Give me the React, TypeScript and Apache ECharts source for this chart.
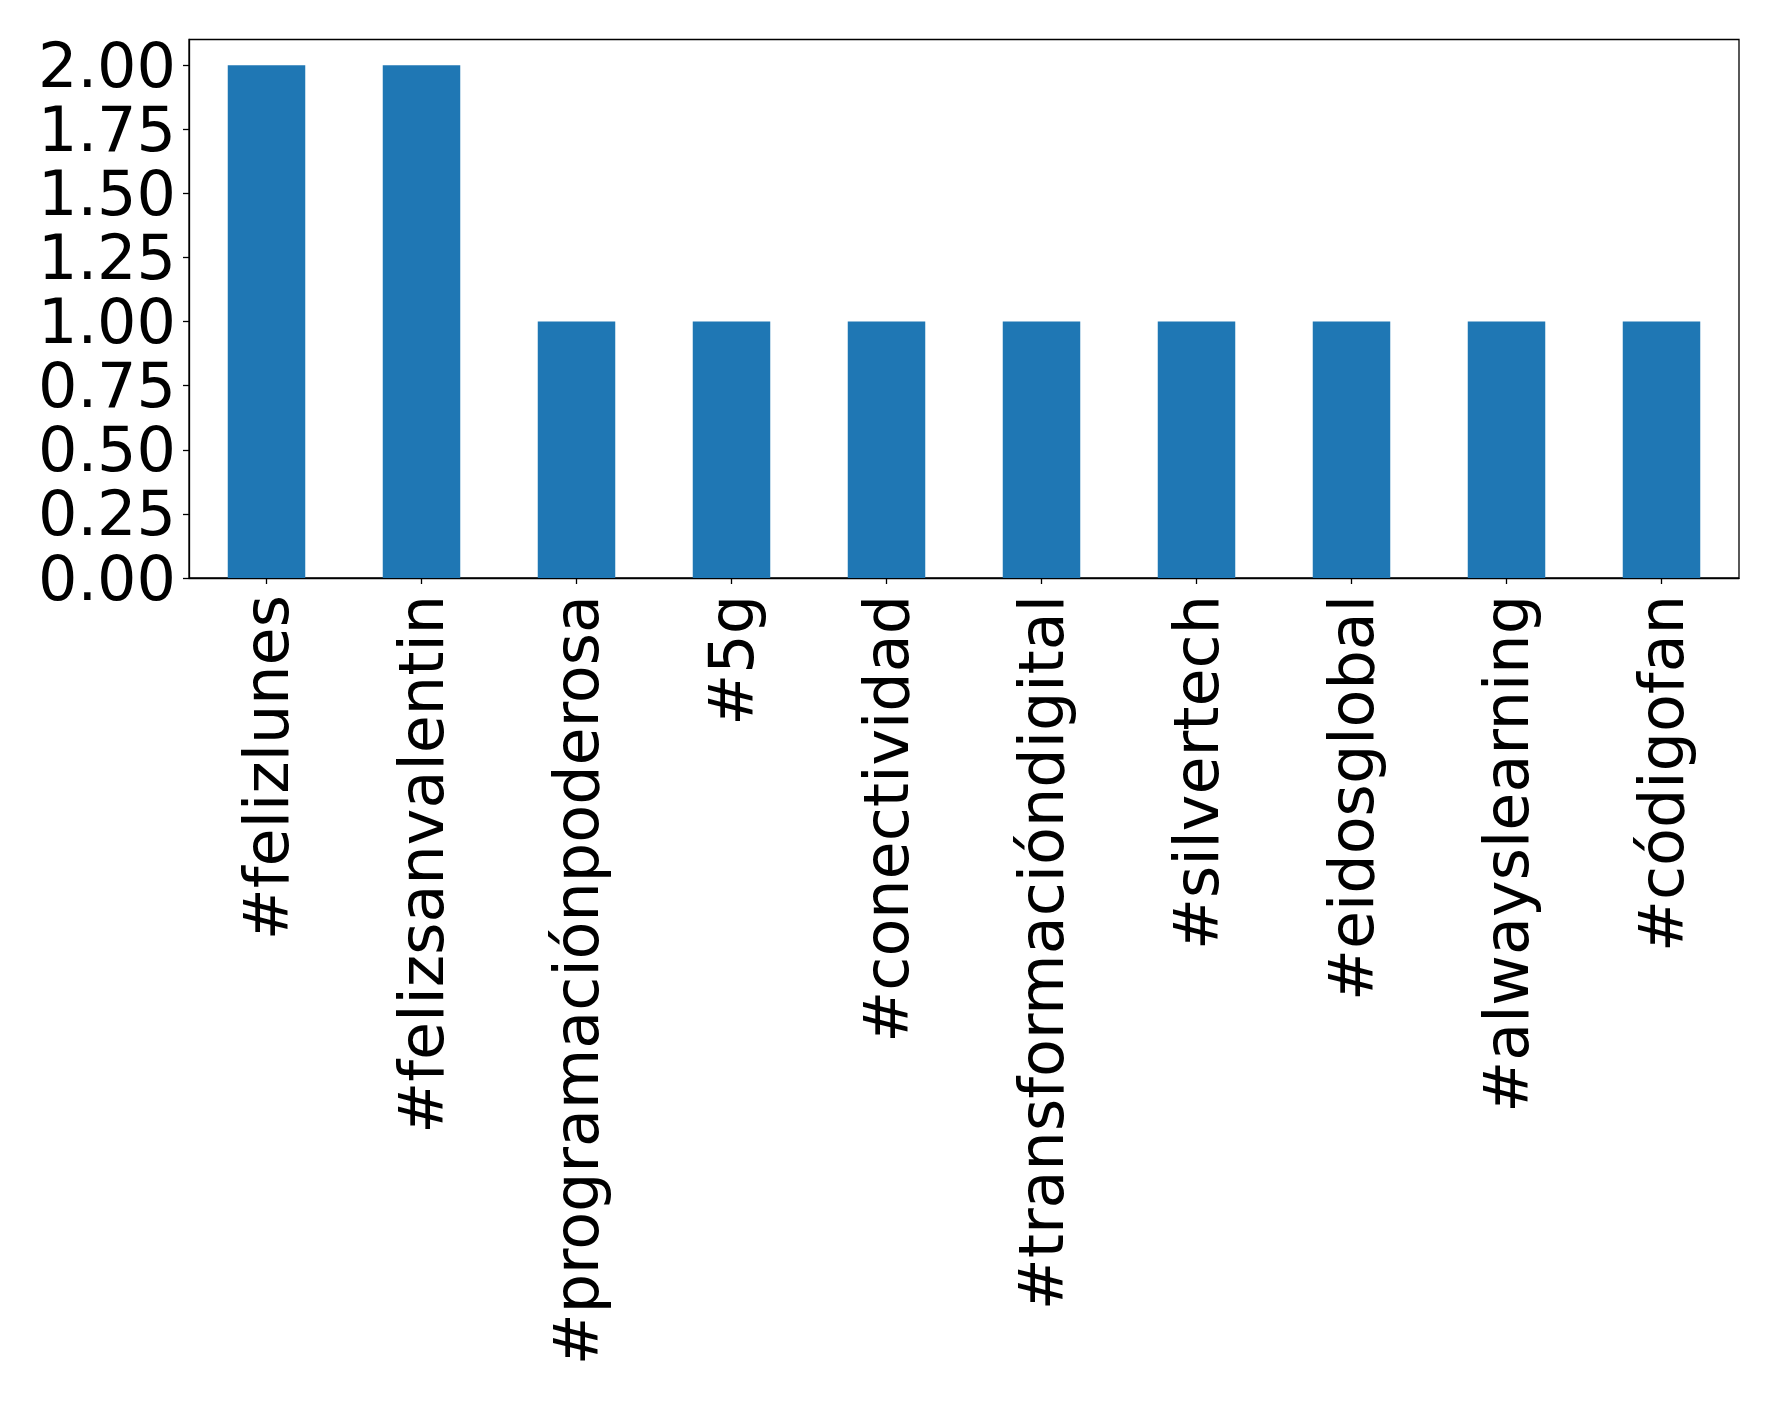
import React, { useEffect, useRef } from "react";
import * as echarts from "echarts";

const categories = [
  "#felizlunes",
  "#felizsanvalentin",
  "#programaciónpoderosa",
  "#5g",
  "#conectividad",
  "#transformacióndigital",
  "#silvertech",
  "#eidosglobal",
  "#alwayslearning",
  "#códigofan",
];
const values = [2, 2, 1, 1, 1, 1, 1, 1, 1, 1];
const yTicks = [0, 0.25, 0.5, 0.75, 1.0, 1.25, 1.5, 1.75, 2.0];

export default function App() {
  const ref = useRef<HTMLDivElement>(null);
  useEffect(() => {
    if (!ref.current) return;
    const chart = echarts.init(ref.current, undefined, { renderer: "svg" });
    const font = "DejaVu Sans";
    chart.setOption({
      animation: false,
      backgroundColor: "#ffffff",
      grid: {
        left: 189,
        top: 39.5,
        right: 39,
        bottom: 826,
        show: true,
        borderColor: "#000000",
        borderWidth: 1.3,
        backgroundColor: "transparent",
      },
      xAxis: {
        type: "category",
        data: categories,
        axisLine: { show: true, lineStyle: { color: "#000000", width: 1.3 } },
        axisTick: { show: true, alignWithLabel: true, length: 6, lineStyle: { color: "#000000", width: 1.3 } },
        axisLabel: {
          interval: 0,
          rotate: 90,
          margin: 17,
          fontSize: 62,
          lineHeight: 60,
          fontFamily: font,
          color: "#000000",
        },
        splitLine: { show: false },
      },
      yAxis: {
        type: "value",
        min: 0,
        max: 2.1,
        interval: 0.25,
        axisLine: { show: true, lineStyle: { color: "#000000", width: 1.3 } },
        axisTick: { show: true, length: 6, customValues: yTicks, lineStyle: { color: "#000000", width: 1.3 } },
        axisLabel: {
          customValues: yTicks,
          margin: 13,
          fontSize: 62,
          lineHeight: 60,
          fontFamily: font,
          color: "#000000",
          formatter: (v: number) => v.toFixed(2),
        },
        splitLine: { show: false },
      },
      series: [
        {
          type: "bar",
          data: values,
          barCategoryGap: "50%",
          itemStyle: { color: "#1f77b4" },
        },
      ],
    });
    return () => chart.dispose();
  }, []);
  return (
    <div
      ref={ref}
      style={{ position: "fixed", left: 0, top: 0, width: 1778, height: 1404, background: "#fff" }}
    />
  );
}
